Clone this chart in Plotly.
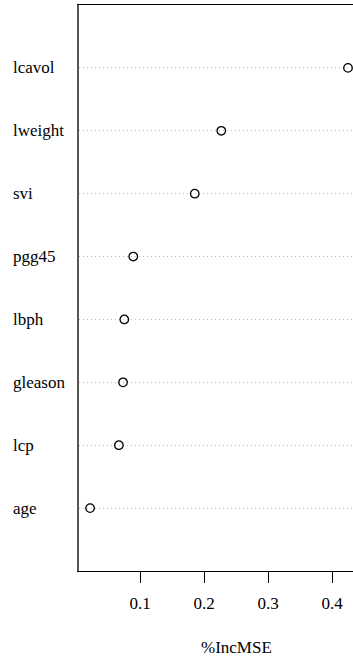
import plotly.graph_objects as go

# Variable importance (%IncMSE), listed from bottom row to top row
variables = ["age", "lcp", "gleason", "lbph", "pgg45", "svi", "lweight", "lcavol"]
inc_mse = [0.022, 0.067, 0.0735, 0.0755, 0.0895, 0.1855, 0.227, 0.425]
x_ticks = [0.1, 0.2, 0.3, 0.4]
x_tick_labels = ["0.1", "0.2", "0.3", "0.4"]

rows = list(range(1, len(variables) + 1))
serif = "Liberation Serif, Times New Roman, serif"

fig = go.Figure()
fig.add_trace(go.Scatter(
    x=inc_mse,
    y=rows,
    mode="markers",
    marker=dict(symbol="circle-open", size=8.5, color="black",
                line=dict(width=1.3, color="black")),
    cliponaxis=False,
    showlegend=False,
))

# Row labels, left-aligned in the margin
for name, r in zip(variables, rows):
    fig.add_annotation(
        x=-0.2483, xref="paper", y=r, yref="y",
        text=name, showarrow=False, xanchor="left", yanchor="middle",
        font=dict(family=serif, size=17, color="black"),
    )

# Axis title below the tick labels
fig.add_annotation(
    x=0.25, xref="x",
    y=-0.136, yref="paper",
    text="%IncMSE", showarrow=False, xanchor="center", yanchor="middle",
    font=dict(family=serif, size=17, color="black"),
)

fig.update_layout(
    width=353, height=660,
    margin=dict(l=79, r=0, t=5, b=89),
    paper_bgcolor="white", plot_bgcolor="white",
    font=dict(family=serif, size=17, color="black"),
    xaxis=dict(
        range=[0.0047, 0.4328],
        tickvals=x_ticks, ticktext=x_tick_labels,
        ticks="outside", ticklen=11, tickwidth=1, tickcolor="black",
        ticklabelstandoff=6,
        showgrid=False, zeroline=False,
        showline=True, linecolor="black", linewidth=1, mirror=True,
        tickfont=dict(family=serif, size=17, color="black"),
    ),
    yaxis=dict(
        range=[0, 9],
        tickvals=rows, showticklabels=False, ticks="",
        showgrid=True, gridcolor="#bebebe", griddash="1px,3px", gridwidth=1,
        zeroline=False,
        showline=True, linecolor="#555555", linewidth=2, mirror=False,
    ),
)

fig.write_html("out.html")
